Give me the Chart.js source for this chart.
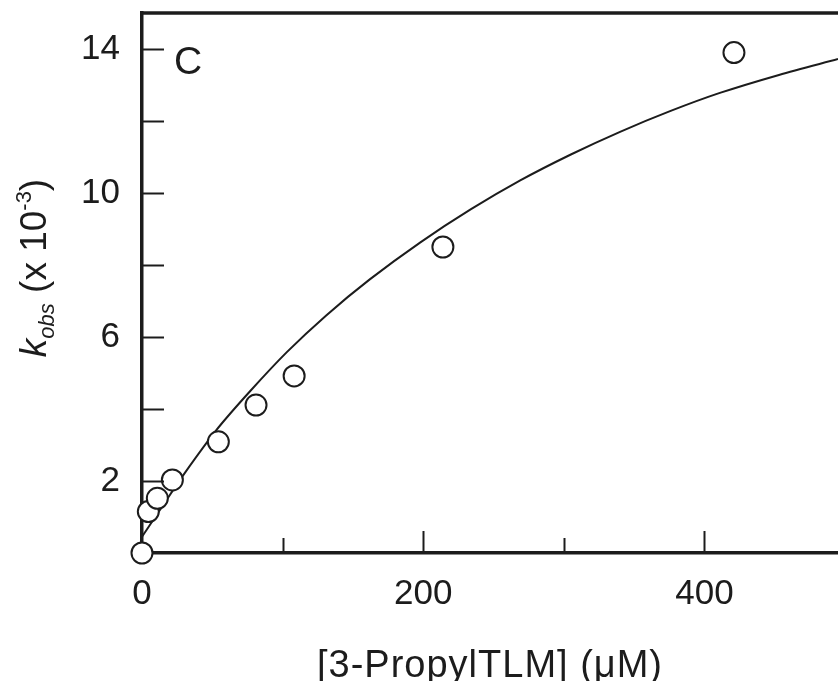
<!DOCTYPE html>
<html>
<head>
<meta charset="utf-8">
<script src="https://cdn.jsdelivr.net/npm/chart.js@4.4.1/dist/chart.umd.min.js"></script>
<style>
    html, body { margin: 0; padding: 0; background: #ffffff; overflow: hidden; }
    #wrap { width: 838px; height: 681px; position: relative; }
    #kobsChart { display: block; }
</style>
</head>
<body>
<div id="wrap"><canvas id="kobsChart"></canvas></div>
<script>
// measured points: [3-PropylTLM] (uM) vs kobs (x 10^-3)
const concX = [0, 4.5, 10.9, 21.6, 54.3, 81.1, 108.2, 214, 421];
const kobsY = [0, 1.15, 1.52, 2.03, 3.09, 4.11, 4.92, 8.5, 13.9];

// fitted curve
const fitX = [0, 15, 30, 53, 77, 103, 131, 162, 198, 234, 269, 305, 340, 376, 411, 453, 495];
const fitY = [0.45, 1.33, 2.2, 3.42, 4.5, 5.58, 6.6, 7.6, 8.63, 9.55, 10.35, 11.07, 11.7, 12.28, 12.78, 13.28, 13.72];

const xTickValues = [0, 100, 200, 300, 400];
const xLabelValues = [0, 200, 400];
const yTickValues = [2, 4, 6, 8, 10, 12, 14];
const yLabelValues = [2, 6, 10, 14];

const ink = '#1c1c1c';
const fontFamily = 'Arial, "Liberation Sans", Helvetica, sans-serif';

const hasValue = (arr, v) => arr.some(a => Math.abs(a - v) < 1e-6);

// no automatic label padding, the plot area is pinned to the frame
const noPadding = (scale) => {
    scale.paddingTop = 0;
    scale.paddingBottom = 0;
    scale.paddingLeft = 0;
    scale.paddingRight = 0;
};

// inward tick marks, titles, top frame line and panel letter
const decorPlugin = {
    id: 'decor',
    afterDraw(chart) {
        const ctx = chart.ctx;
        const area = chart.chartArea;
        const xs = chart.scales.x;
        const ys = chart.scales.y;
        ctx.save();
        ctx.strokeStyle = ink;
        ctx.lineWidth = 2;

        ys.ticks.forEach(t => {
            if (t.value <= 0) return;
            const py = Math.round(ys.getPixelForValue(t.value)) + 0.5;
            ctx.beginPath();
            ctx.moveTo(area.left, py);
            ctx.lineTo(area.left + 22, py);
            ctx.stroke();
        });
        xs.ticks.forEach(t => {
            if (t.value <= 0) return;
            const px = Math.round(xs.getPixelForValue(t.value)) + 0.5;
            const len = hasValue(xLabelValues, t.value) ? 22 : 15;
            ctx.beginPath();
            ctx.moveTo(px, area.bottom);
            ctx.lineTo(px, area.bottom - len);
            ctx.stroke();
        });

        // top frame line
        ctx.lineWidth = 3.5;
        ctx.beginPath();
        ctx.moveTo(area.left - 1.75, area.top);
        ctx.lineTo(area.right, area.top);
        ctx.stroke();

        ctx.fillStyle = ink;
        // panel letter
        ctx.textAlign = 'left';
        ctx.textBaseline = 'alphabetic';
        ctx.font = '39px ' + fontFamily;
        ctx.fillText('C', 174, 74);

        // x title
        ctx.font = '38px ' + fontFamily;
        ctx.letterSpacing = '1px';
        ctx.textAlign = 'center';
        ctx.fillText('[3-PropylTLM] (\u03BCM)', (area.left + area.right) / 2, 677);
        ctx.letterSpacing = '0px';

        // y title, rotated: k_obs (x 10^-3)
        const parts = [
            { s: 'k', f: 'italic 37px ' + fontFamily, dy: 0 },
            { s: 'obs', f: 'italic 22px ' + fontFamily, dy: 8 },
            { s: ' (x 10', f: '37px ' + fontFamily, dy: 0 },
            { s: '-3', f: '22px ' + fontFamily, dy: -15 },
            { s: ')', f: '37px ' + fontFamily, dy: 0 }
        ];
        let total = 0;
        parts.forEach(p => { ctx.font = p.f; p.w = ctx.measureText(p.s).width; total += p.w; });
        ctx.translate(46, 268);
        ctx.rotate(-Math.PI / 2);
        ctx.textAlign = 'left';
        let cx = -total / 2;
        parts.forEach(p => {
            ctx.font = p.f;
            ctx.fillText(p.s, cx, p.dy);
            cx += p.w;
        });
        ctx.restore();
    }
};

const ctx = document.getElementById('kobsChart').getContext('2d');
new Chart(ctx, {
    type: 'scatter',
    data: {
        datasets: [
            {
                label: 'kobs',
                data: concX.map((x, i) => ({ x: x, y: kobsY[i] })),
                pointRadius: 10.5,
                pointBorderWidth: 2,
                pointBackgroundColor: '#ffffff',
                pointBorderColor: ink,
                showLine: false,
                clip: false,
                order: 0
            },
            {
                label: 'fit',
                data: fitX.map((x, i) => ({ x: x, y: fitY[i] })),
                showLine: true,
                pointRadius: 0,
                borderColor: ink,
                borderWidth: 2,
                tension: 0.3,
                order: 1
            }
        ]
    },
    options: {
        responsive: true,
        maintainAspectRatio: false,
        animation: false,
        layout: { autoPadding: false, padding: { top: 13, right: 0, left: 0, bottom: 0 } },
        plugins: {
            legend: { display: false },
            tooltip: { enabled: false }
        },
        scales: {
            x: {
                type: 'linear',
                min: 0,
                max: 495,
                afterBuildTicks: (scale) => { scale.ticks = xTickValues.map(v => ({ value: v })); },
                afterFit: (scale) => { scale.height = 128; noPadding(scale); },
                border: { display: true, color: ink, width: 3.5 },
                grid: { display: false, drawTicks: false },
                ticks: {
                    autoSkip: false,
                    maxRotation: 0,
                    padding: 20,
                    color: ink,
                    font: { size: 35, family: fontFamily },
                    callback: (v) => hasValue(xLabelValues, v) ? String(v) : ''
                }
            },
            y: {
                type: 'linear',
                min: 0,
                max: 15,
                afterBuildTicks: (scale) => { scale.ticks = yTickValues.map(v => ({ value: v })); },
                afterFit: (scale) => { scale.width = 142; noPadding(scale); },
                border: { display: true, color: ink, width: 3.5 },
                grid: { display: false, drawTicks: false },
                ticks: {
                    autoSkip: false,
                    padding: 22,
                    color: ink,
                    font: { size: 35, family: fontFamily },
                    callback: (v) => hasValue(yLabelValues, v) ? String(v) : ''
                }
            }
        }
    },
    plugins: [decorPlugin]
});
</script>
</body>
</html>
